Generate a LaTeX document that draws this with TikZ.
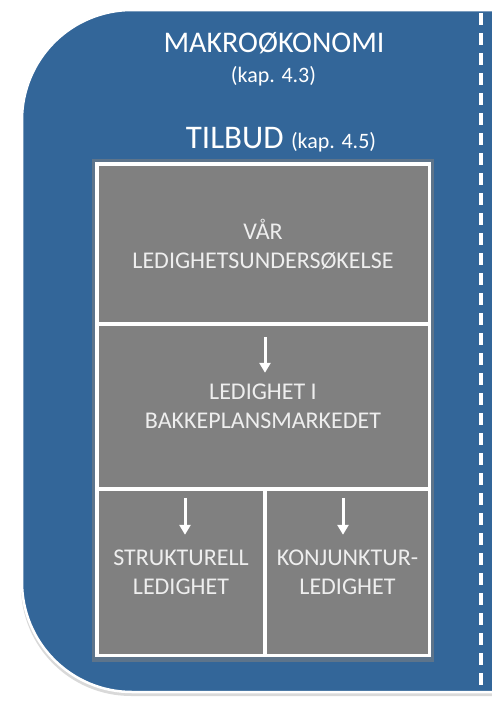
\documentclass[tikz,border=0pt]{standalone}
\usepackage{fontspec}
\setmainfont{Carlito}
\usetikzlibrary{arrows.meta,shadows}
\definecolor{makroblue}{HTML}{336699}
\definecolor{cellgray}{HTML}{808080}
\definecolor{celltext}{HTML}{EEEEEE}

\begin{document}
\begin{tikzpicture}[x=1pt,y=-1pt,
    cell/.style={fill=cellgray, text=celltext, inner sep=0pt, align=center,
        font=\fontsize{24}{29}\selectfont},
    ned/.style={-{Triangle[width=11pt,length=10pt]}, line width=3pt, white}]
        \useasboundingbox (0,0) rectangle (491,720);

        \draw[fill=makroblue, draw=white, line width=2.5pt,
            drop shadow={shadow xshift=-1pt, shadow yshift=-4pt, opacity=0.3}]
            (520,10) -- (132,10) .. controls (71.2,10) and (22,59.2) .. (22,120)
            -- (22,582) .. controls (22,642.8) and (71.2,692) .. (132,692)
            -- (520,692) -- cycle;

        \coordinate (dtop) at (481,13);
        \coordinate (dbot) at (481,692);
        \draw[white, line width=3.2pt, dash pattern=on 12pt off 8pt] (dtop) -- (dbot);

        \node[white, anchor=base, font=\fontsize{30}{36}\selectfont] (makro) at (274,52) {MAKRO{\O}KONOMI};
        \node[white, anchor=base, font=\fontsize{22}{26}\selectfont] (kap43) at (273.5,82) {(kap. 4.3)};
        \node[white, anchor=base, font=\fontsize{33}{40}\selectfont] (tilbud) at (281,148)
            {TILBUD {\fontsize{22}{26}\selectfont (kap. 4.5)}};

        \node[fill=white, minimum width=336pt, minimum height=495pt, inner sep=0pt,
            drop shadow={shadow xshift=0pt, shadow yshift=-1pt, shadow scale=1.015, opacity=0.55}] (ramme) at (263,409.5) {};

        \node[cell, minimum width=329pt, minimum height=156pt] (vaar) at (263,244)
            {VÅR\\LEDIGHETSUNDERSØKELSE};
        \node[cell, minimum width=329pt, minimum height=161pt] (bakke) at (263,406.5)
            {LEDIGHET I\\BAKKEPLANSMARKEDET};
        \node[cell, minimum width=164pt, minimum height=163pt] (struk) at (181,572.5)
            {STRUKTURELL\\LEDIGHET};
        \node[cell, minimum width=161pt, minimum height=163pt] (konj) at (347.5,572.5)
            {KONJUNKTUR-\\LEDIGHET};

        \draw[ned] ([xshift=2pt,yshift=-11pt]bakke.north) -- ++(0,36);
        \draw[ned] ([xshift=4pt,yshift=-7pt]struk.north) -- ++(0,37);
        \draw[ned] ([xshift=-4.5pt,yshift=-7pt]konj.north) -- ++(0,37);
\end{tikzpicture}
\end{document}
